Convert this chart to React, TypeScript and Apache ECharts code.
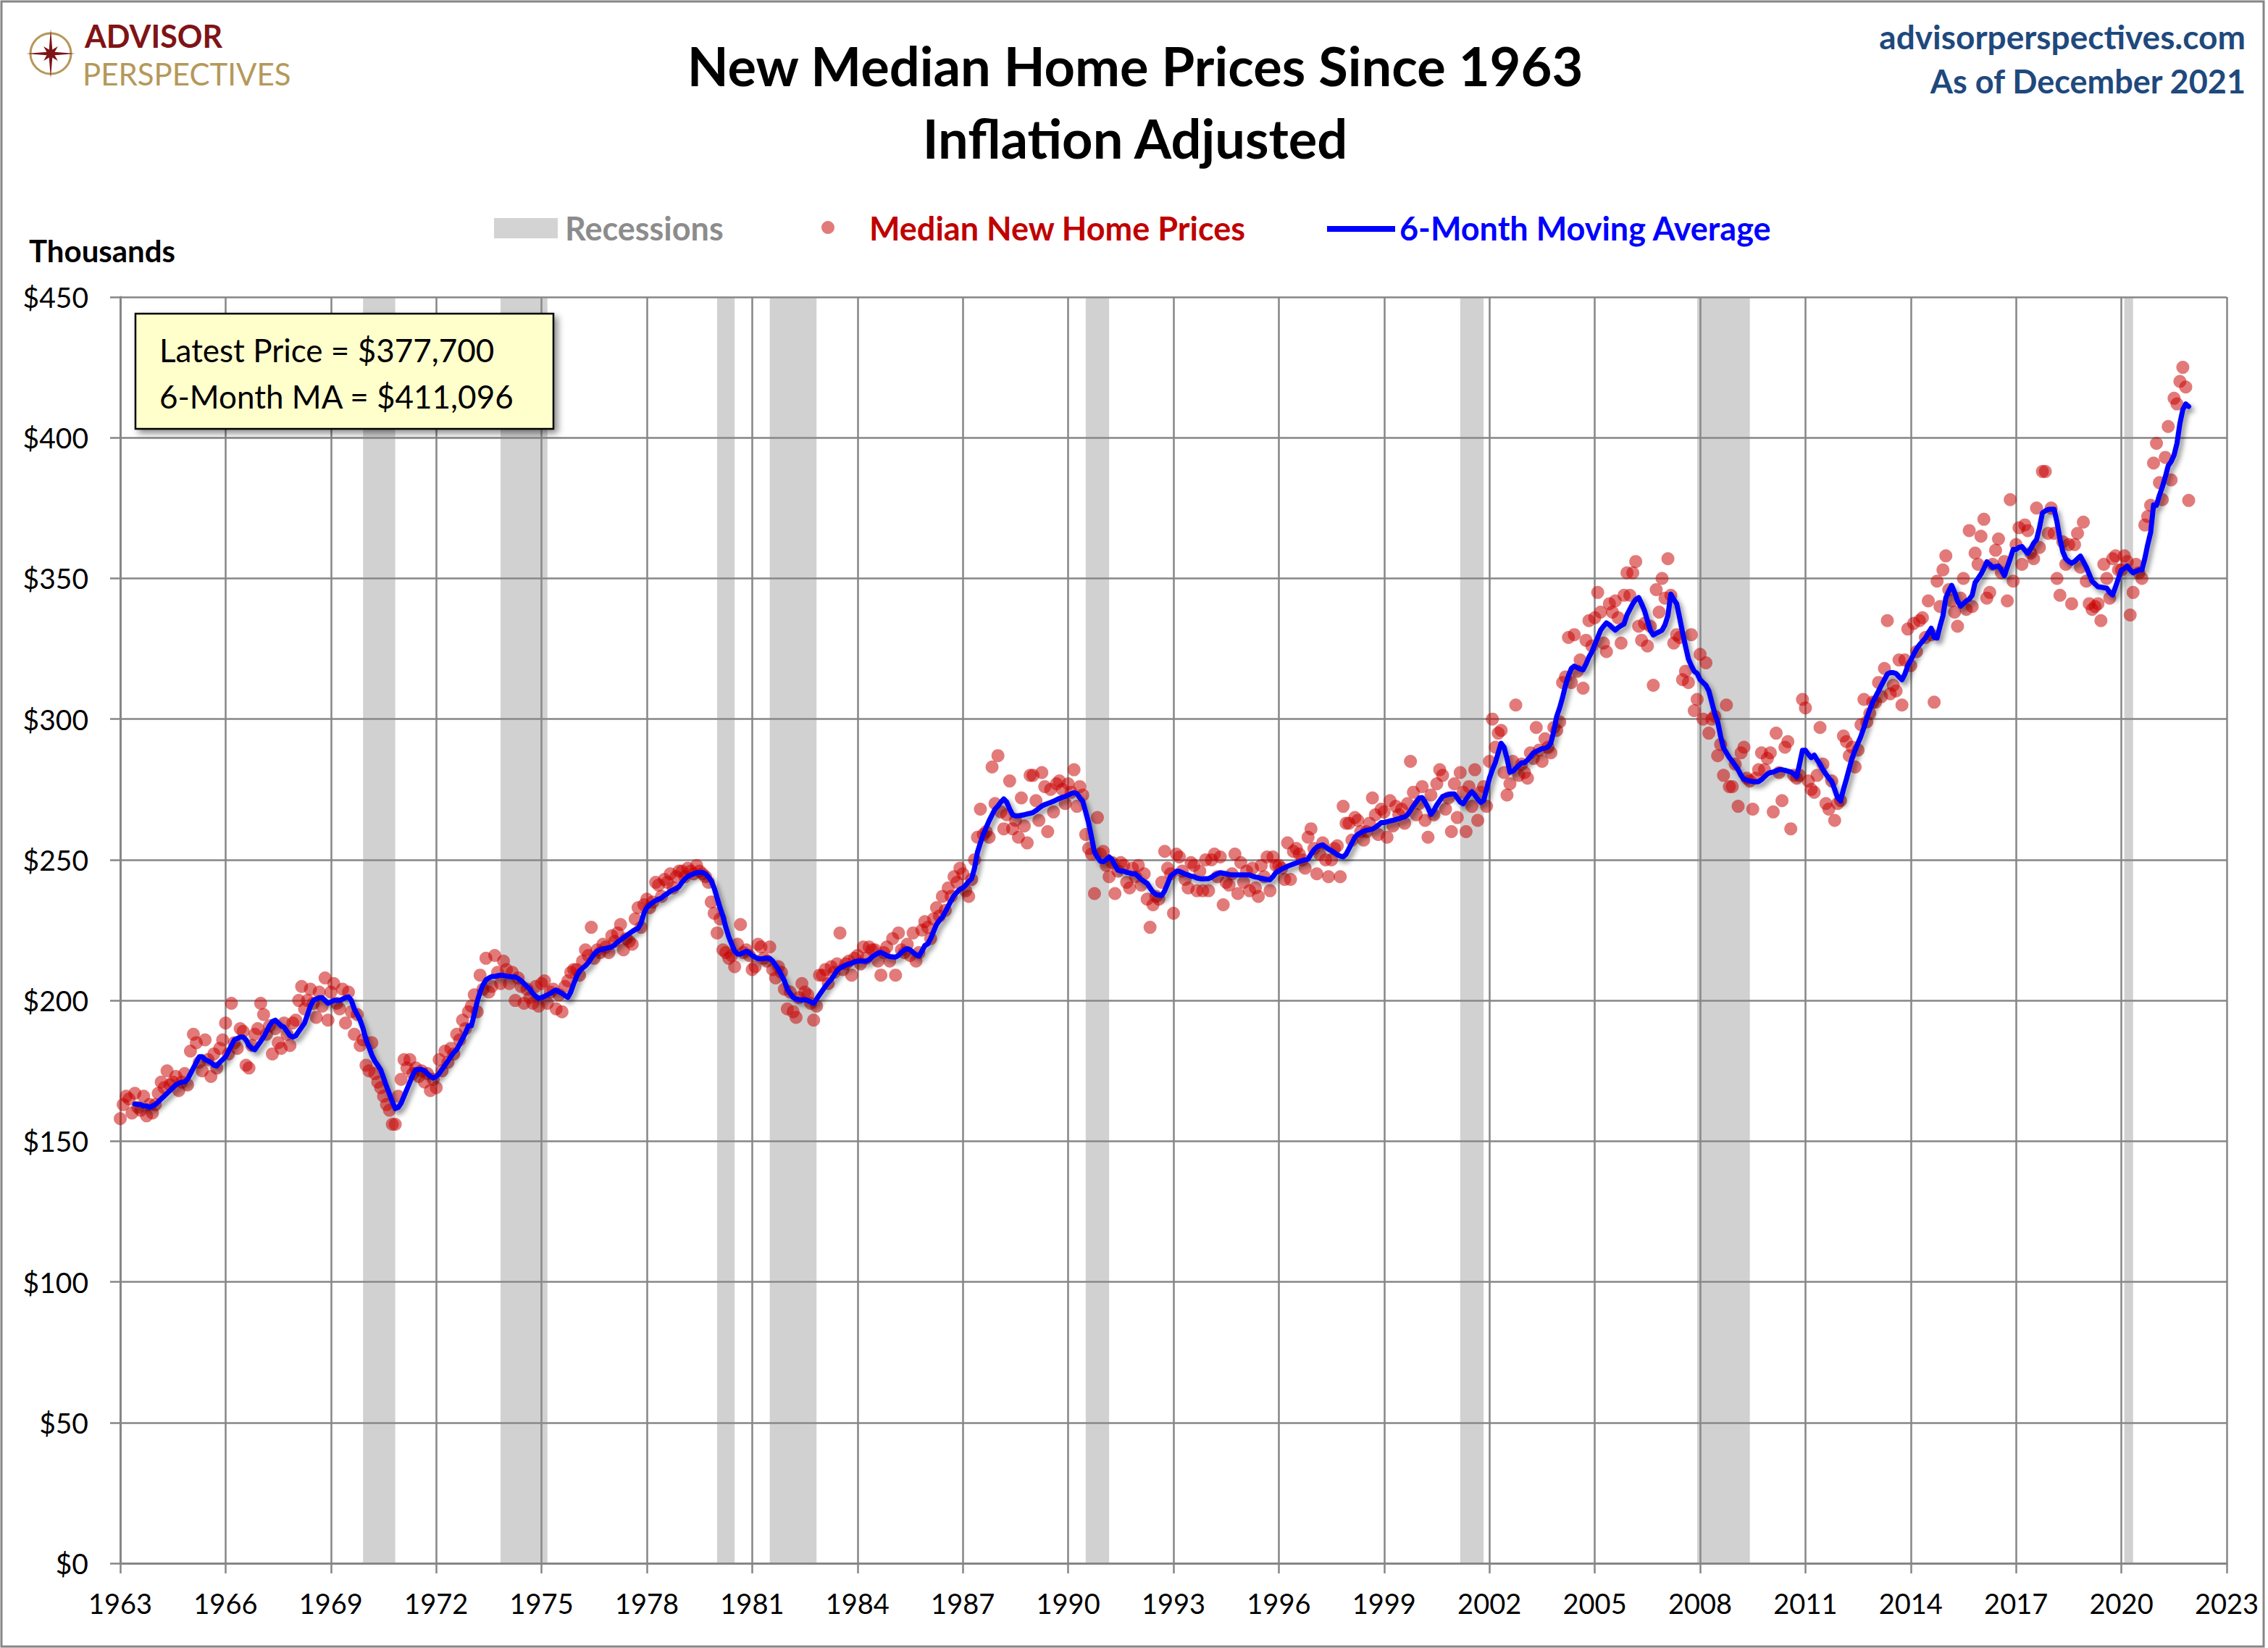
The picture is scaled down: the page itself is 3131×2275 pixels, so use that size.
import React, { useEffect, useRef } from "react";
import * as echarts from "echarts";

const FIRST_YEAR = 1963;
const LAST_TICK_OFFSET = 60;
const X_STEP = 3;
const Y_MAX = 450;
const Y_STEP = 50;

const recessionStarts = [1969.917, 1973.833, 1980.0, 1981.5, 1990.5, 2001.167, 2007.917, 2020.083];
const recessionEnds = [1970.833, 1975.167, 1980.5, 1982.833, 1991.167, 2001.833, 2009.417, 2020.333];

// Monthly median new home prices (thousands, inflation adjusted), Jan 1963 onward
const prices1963to1969 = [
  158, 163, 166, 165, 160, 167, 162, 161, 166, 159, 163, 160,
  163, 167, 171, 169, 175, 170, 171, 173, 168, 171, 174, 170,
  182, 188, 185, 178, 175, 186, 179, 173, 181, 176, 183, 186,
  192, 181, 199, 185, 183, 190, 189, 177, 176, 184, 188, 190,
  199, 195, 188, 191, 181, 190, 185, 183, 192, 188, 184, 192,
  193, 200, 205, 197, 200, 204, 199, 194, 203, 198, 208, 193,
  203, 206, 199, 197, 204, 192, 203, 196, 188, 195, 184, 186,
];
const prices1970s = [
  177, 175, 185, 174, 171, 169, 166, 163, 161, 156, 156, 166,
  172, 179, 176, 179, 174, 176, 173, 175, 171, 174, 168, 172,
  169, 179, 175, 182, 178, 183, 181, 188, 186, 193, 190, 196,
  198, 202, 196, 209, 204, 215, 203, 205, 216, 210, 206, 214,
  211, 206, 210, 200, 208, 205, 199, 204, 201, 199, 205, 198,
  206, 207, 199, 203, 204, 197, 202, 196, 205, 207, 210, 211,
  211, 209, 214, 218, 216, 226, 215, 218, 217, 220, 219, 217,
  223, 221, 224, 227, 218, 222, 221, 220, 229, 233, 226, 234,
  236, 233, 235, 242, 241, 237, 243, 242, 245, 240, 244, 246,
  246, 244, 247, 246, 245, 248, 246, 245, 244, 242, 235, 231,
];
const prices1980s = [
  224, 229, 218, 217, 215, 216, 212, 220, 227, 217, 218, 216,
  211, 212, 220, 219, 215, 214, 219, 211, 208, 212, 210, 204,
  197, 203, 196, 194, 201, 206, 203, 202, 199, 193, 198, 209,
  209, 211, 206, 212, 210, 213, 224, 211, 213, 214, 209, 215,
  216, 213, 219, 215, 219, 218, 218, 214, 209, 217, 219, 214,
  222, 209, 224, 218, 217, 220, 216, 224, 214, 217, 225, 228,
  226, 222, 229, 233, 230, 237, 232, 240, 237, 244, 242, 247,
  245, 239, 237, 243, 250, 258, 268, 259, 260, 258, 283, 270,
  287, 267, 261, 266, 278, 261, 264, 258, 272, 262, 256, 280,
  280, 271, 264, 281, 276, 260, 275, 267, 277, 278, 275, 270,
];
const prices1990s = [
  277, 274, 282, 269, 276, 273, 259, 254, 252, 238, 265, 252,
  253, 248, 244, 249, 238, 246, 249, 248, 242, 240, 247, 244,
  248, 241, 245, 236, 226, 234, 237, 236, 242, 253, 247, 245,
  231, 252, 251, 246, 243, 240, 249, 248, 239, 246, 239, 250,
  239, 250, 252, 244, 251, 234, 242, 241, 245, 252, 238, 249,
  242, 246, 239, 247, 240, 237, 248, 244, 251, 239, 251, 248,
  248, 247, 243, 256, 243, 253, 254, 252, 250, 247, 258, 261,
  254, 245, 252, 256, 250, 244, 250, 254, 255, 244, 269, 263,
  263, 257, 265, 264, 260, 257, 260, 263, 272, 266, 259, 268,
  267, 258, 271, 262, 269, 266, 268, 263, 270, 285, 274, 266,
];
const prices2000s = [
  270, 276, 264, 258, 273, 266, 277, 282, 280, 268, 272, 260,
  277, 265, 281, 274, 260, 276, 269, 282, 264, 274, 276, 269,
  285, 300, 290, 295, 296, 281, 273, 277, 285, 305, 280, 284,
  281, 279, 288, 286, 297, 289, 285, 293, 290, 288, 297, 296,
  299, 313, 315, 329, 313, 330, 317, 321, 311, 328, 335, 326,
  336, 345, 338, 327, 324, 341, 338, 342, 336, 327, 344, 352,
  344, 352, 356, 333, 328, 334, 326, 333, 312, 346, 338, 350,
  343, 357, 344, 327, 330, 329, 314, 317, 313, 330, 303, 307,
  323, 300, 320, 295, 300, 301, 287, 291, 280, 305, 276, 276,
  284, 269, 288, 290, 279, 278, 268, 279, 282, 288, 282, 286,
];
const prices2010s = [
  288, 267, 295, 281, 271, 290, 292, 261, 280, 279, 280, 307,
  304, 278, 275, 274, 280, 297, 284, 270, 268, 278, 264, 270,
  271, 294, 292, 287, 290, 283, 289, 298, 307, 299, 302, 306,
  306, 313, 308, 318, 335, 309, 312, 310, 321, 305, 321, 332,
  319, 334, 324, 335, 336, 329, 342, 330, 306, 349, 340, 353,
  358, 346, 342, 338, 333, 343, 350, 339, 367, 340, 359, 355,
  365, 371, 343, 345, 355, 360, 364, 352, 356, 342, 378, 349,
  362, 368, 355, 369, 367, 359, 357, 375, 361, 388, 388, 366,
  375, 366, 350, 344, 363, 355, 362, 341, 362, 366, 354, 370,
  349, 341, 339, 340, 341, 335, 355, 350, 343, 357, 358, 353,
];
const prices2020s = [
  353, 358, 356, 337, 345, 355, 352, 350, 369, 372, 376, 391,
  398, 384, 378, 393, 404, 385, 414, 412, 420, 425, 418, 377.7,
];

// 6-month moving average (thousands), Jan 1963 onward (first five months empty)
const ma1963to1969 = [
  null, null, null, null, null, 163.2, 163, 163, 162.5, 162.5, 162, 162.5,
  163, 164, 165, 166, 167, 168, 169, 170, 170.5, 171, 171, 172,
  174, 176, 178, 180, 180, 179, 178.5, 178, 177, 176.7, 178, 179,
  180, 182, 184, 186, 186.5, 187, 187, 186, 184, 183, 182.5, 184,
  185.5, 187, 189, 191, 192.5, 193, 192, 191, 190.5, 189, 187.5, 187,
  187.5, 189, 190.5, 192, 195, 198, 200, 200.5, 201, 201, 200, 199,
  199.5, 200, 200, 200, 200.5, 201, 201.3, 200, 197, 195, 193, 190,
];
const ma1970s = [
  186, 183.5, 180.6, 178.5, 177, 175.4, 172.5, 169.5, 166.8, 164, 161.6, 162,
  163.5, 166, 168.5, 171, 173.5, 175.4, 175.5, 175.5, 175, 174, 173, 172.4,
  173, 174, 175.5, 177, 178.5, 180, 181.5, 182.5, 184.5, 186.5, 188.5, 191,
  191, 195, 199.6, 203, 205.5, 207.3, 208, 208.5, 208.5, 208.8, 209, 208.9,
  208.6, 208.5, 208.4, 208.4, 207.8, 207, 206, 205, 204, 202.5, 201.5, 200.7,
  201, 201.5, 202, 202.5, 203.2, 203.7, 203, 202.5, 201.8, 201.1, 203, 206,
  208.5, 210.5, 211.5, 212.3, 213.5, 215, 216.5, 217.5, 218, 218.3, 218.5, 218.8,
  219, 219.8, 220.8, 221.5, 222.3, 223, 223.8, 224.5, 225.2, 225.6, 227.5, 231,
  233, 234, 234.8, 235.5, 236, 236.4, 237.3, 238, 238.8, 239.3, 239.8, 240.5,
  242, 243.2, 244.1, 244.6, 245, 245.4, 245.5, 245.5, 245, 244, 242.5, 240,
];
const ma1980s = [
  236.5, 233, 230, 226, 222.6, 220, 217.5, 216.5, 216.5, 217, 217.5, 217,
  216, 215.4, 214.9, 214.8, 214.9, 215, 214.9, 214, 212.5, 211, 209, 207,
  204, 202.5, 201.1, 200.5, 200.3, 200.2, 200.3, 200, 199.5, 199, 200.5, 202,
  203.5, 205, 206.3, 207.5, 209, 210.6, 211.5, 212, 212.6, 213, 213.2, 213.8,
  214, 214, 214, 214, 214.5, 215.5, 216.2, 216.8, 217.1, 216.5, 216, 215.6,
  215.5, 215.4, 216, 217, 218, 218.4, 218, 217, 216.3, 215.8, 217.5, 219.5,
  220.1, 222, 224.5, 227, 228.5, 229.6, 231.5, 233.5, 235.5, 237.3, 238.5, 239.5,
  240, 241, 242.3, 243.3, 247, 252.7, 256, 259, 261.5, 263.9, 266, 268,
  269.1, 270.5, 271.6, 270.5, 268, 266, 265.6, 265.6, 265.8, 266, 266.3, 266.5,
  266.8, 267.5, 268.3, 269.1, 269.6, 270, 270.4, 270.8, 271.3, 271.8, 272.2, 272.5,
];
const ma1990s = [
  273, 273.5, 273.8, 273.5, 272, 270.8, 267, 263.1, 258, 252.7, 251, 249.5,
  249.3, 250, 251, 250, 248, 246.3, 246, 246, 245.5, 245.3, 245, 245,
  244, 243, 242.3, 241.6, 240, 238.5, 237.7, 237.5, 237.3, 239, 241.5, 244.2,
  245, 245.9, 245.9, 245.4, 244.9, 244.6, 244.2, 244, 243.5, 243.3, 243.2, 243.3,
  243.3, 243.8, 244.5, 245, 245.4, 245.2, 245, 244.8, 244.6, 244.6, 244.6, 244.6,
  244.6, 244.6, 244.6, 244.2, 243.9, 243.7, 243.4, 243.2, 243, 242.9, 244, 245.5,
  246, 246.7, 247.2, 247.7, 248.1, 248.5, 248.9, 249.3, 249.7, 250, 250.2, 252,
  253.5, 254.5, 255, 255.3, 254.5, 253.8, 253.2, 252.5, 251.8, 251.3, 251, 252,
  254, 256, 258, 259, 259.6, 260.2, 260.5, 260.7, 260.9, 261.5, 262.3, 263.2,
  263.2, 263.5, 263.8, 264, 264.3, 264.6, 265, 265.2, 266, 267.5, 269.1, 270.5,
];
const ma2000s = [
  272, 272.1, 270.5, 268.5, 266.1, 267.5, 269.5, 271, 272.5, 272.9, 273.2, 273.4,
  273.4, 272, 270.5, 269.9, 271.5, 273, 274.2, 273, 271.5, 270.4, 271, 275,
  279, 282, 284.5, 288, 291.4, 290, 286, 281.1, 281.5, 282.5, 283.5, 284.5,
  284.5, 285.5, 286.5, 288, 288.5, 289, 289.5, 289.7, 290.1, 291.5, 295.7, 301,
  304, 307.7, 312, 315.4, 318, 318.8, 318.3, 317.8, 317.5, 319.5, 322, 323.9,
  326.5, 329, 331.6, 333, 334.2, 333.5, 332.5, 331.6, 332.5, 333.2, 333.8, 337,
  339, 341, 342.5, 343.2, 341, 338.5, 335, 331.5, 329.9, 330.5, 331, 331.6,
  333.5, 336.8, 344.4, 342.5, 341, 336, 330.8, 326, 321.4, 319, 317, 316.2,
  314, 313, 312, 310, 306, 302, 299.1, 294, 289.7, 288, 286.3, 285,
  283.5, 282, 280, 278.6, 278.3, 278, 277.8, 277.8, 277.8, 278.5, 279.5, 280.5,
];
const ma2010s = [
  281, 281.2, 281.6, 282, 282, 281.8, 281.5, 281.2, 280.5, 279.5, 284, 288.9,
  288.9, 287.5, 286.3, 287.2, 285.5, 284, 282, 280.5, 279, 277.8, 275, 272,
  270.9, 275, 278.6, 282.5, 286.3, 289, 291.5, 294, 297, 300.5, 303.4, 306,
  308, 310, 312.1, 314, 316, 316.5, 316.5, 316.2, 315, 314, 316, 319,
  320.9, 323, 325, 326.4, 327.6, 328.8, 330.5, 332.3, 329, 328.8, 333, 336.7,
  343.1, 345.5, 347.5, 345, 342, 340.1, 341, 342, 342.6, 344, 348.5, 350,
  351.5, 353.5, 355.9, 355, 353.9, 354.2, 354.4, 353, 351, 354, 357, 360.3,
  360.3, 361, 361.3, 360, 358.9, 360.5, 362.5, 363.8, 368, 373.2, 374, 374.5,
  374.6, 374.6, 370, 364, 359.4, 357, 356, 355.4, 356, 357, 357.9, 356,
  354, 351.5, 349, 348, 347, 346.9, 346.7, 346.5, 345, 344.1, 347, 350,
];
const ma2020s = [
  353, 353.5, 354.4, 353, 352, 352.5, 353, 353, 357, 362, 366.3, 376.1,
  376, 379.5, 382.5, 386, 390, 391.5, 393.8, 398, 405, 410, 412, 411.1,
];

const FONT = "Lato, 'Open Sans', sans-serif";
const GRID_GREY = "#868686";

function buildOption() {
  const prices = [
    ...prices1963to1969, ...prices1970s, ...prices1980s, ...prices1990s,
    ...prices2000s, ...prices2010s, ...prices2020s,
  ];
  const ma = [
    ...ma1963to1969, ...ma1970s, ...ma1980s, ...ma1990s,
    ...ma2000s, ...ma2010s, ...ma2020s,
  ];
  const priceData = prices.map((v, i) => [i / 12, v]);
  const maData = ma
    .map((v, i) => (v == null ? null : [i / 12, v]))
    .filter((p) => p !== null);
  const recessionAreas = recessionStarts.map((s, i) => [
    { xAxis: s - FIRST_YEAR },
    { xAxis: recessionEnds[i] - FIRST_YEAR },
  ]);

  const starPts: number[][] = [];
  for (let k = 0; k < 16; k++) {
    const ang = (k * Math.PI) / 8 - Math.PI / 2;
    const r = k % 4 === 0 ? 34 : k % 2 === 0 ? 14 : 6;
    starPts.push([70 + r * Math.cos(ang), 74 + r * Math.sin(ang)]);
  }

  const txt = (
    text: string, x: number, y: number, font: string, fill: string,
    align: string = "left"
  ) => ({
    type: "text",
    x,
    y,
    silent: true,
    style: { text, font, fill, textAlign: align, textVerticalAlign: "middle" },
  });

  return {
    animation: false,
    backgroundColor: "#ffffff",
    grid: { left: 166, right: 57, top: 410, bottom: 117 },
    xAxis: {
      type: "value",
      min: 0,
      max: LAST_TICK_OFFSET,
      interval: X_STEP,
      axisLine: { show: true, lineStyle: { color: GRID_GREY, width: 3 } },
      axisTick: { show: true, length: 14, lineStyle: { color: GRID_GREY, width: 2.5 } },
      axisLabel: {
        formatter: (v: number) => String(FIRST_YEAR + v),
        fontFamily: FONT,
        fontSize: 38,
        color: "#000",
        margin: 36,
      },
      splitLine: { show: true, lineStyle: { color: GRID_GREY, width: 2.5 } },
    },
    yAxis: {
      type: "value",
      min: 0,
      max: Y_MAX,
      interval: Y_STEP,
      axisLine: { show: true, lineStyle: { color: GRID_GREY, width: 3 } },
      axisTick: { show: true, length: 14, lineStyle: { color: GRID_GREY, width: 2.5 } },
      axisLabel: {
        formatter: "${value}",
        fontFamily: FONT,
        fontSize: 39,
        color: "#000",
        margin: 44,
      },
      splitLine: { show: true, lineStyle: { color: GRID_GREY, width: 2.5 } },
    },
    series: [
      {
        name: "Recessions",
        type: "line",
        data: [],
        z: 1,
        markArea: {
          silent: true,
          itemStyle: { color: "rgba(140,140,140,0.4)" },
          data: recessionAreas,
        },
      },
      {
        name: "Median New Home Prices",
        type: "scatter",
        data: priceData,
        symbol: "circle",
        symbolSize: 18,
        z: 2,
        itemStyle: { color: "#c80000", opacity: 0.52 },
      },
      {
        name: "6-Month Moving Average",
        type: "line",
        data: maData,
        showSymbol: false,
        symbol: "none",
        z: 3,
        lineStyle: {
          color: "#0000ff",
          width: 7,
          cap: "round",
          join: "round",
          shadowColor: "rgba(0,0,0,0.45)",
          shadowBlur: 7,
          shadowOffsetX: 4,
          shadowOffsetY: 5,
        },
      },
    ],
    graphic: [
      {
        type: "rect",
        silent: true,
        shape: { x: 2, y: 2, width: 3123, height: 2271 },
        style: { fill: "none", stroke: GRID_GREY, lineWidth: 3 },
        z: -10,
      },
      // logo
      {
        type: "circle",
        silent: true,
        shape: { cx: 70, cy: 74, r: 28 },
        style: { fill: "none", stroke: "#b5985a", lineWidth: 3 },
      },
      {
        type: "polygon",
        silent: true,
        shape: { points: starPts },
        style: { fill: "#7f1416" },
      },
      txt("ADVISOR", 117, 49, `bold 43px ${FONT}`, "#7f1416"),
      txt("PERSPECTIVES", 114, 102, `42px ${FONT}`, "#b5985a"),
      // titles
      txt("New Median Home Prices Since 1963", 1567, 90, `bold 74px ${FONT}`, "#000", "center"),
      txt("Inflation Adjusted", 1567, 190, `bold 74px ${FONT}`, "#000", "center"),
      txt("advisorperspectives.com", 3100, 50, `bold 46px ${FONT}`, "#1f497d", "right"),
      txt("As of December 2021", 3100, 112, `bold 45px ${FONT}`, "#1f497d", "right"),
      // legend
      {
        type: "rect",
        silent: true,
        shape: { x: 682, y: 301, width: 88, height: 28 },
        style: { fill: "#d3d3d3" },
      },
      txt("Recessions", 780, 315, `bold 45px ${FONT}`, "#8c8c8c"),
      {
        type: "circle",
        silent: true,
        shape: { cx: 1143, cy: 314, r: 9 },
        style: { fill: "#c80000", opacity: 0.52 },
      },
      txt("Median New Home Prices", 1200, 315, `bold 45px ${FONT}`, "#c00000"),
      {
        type: "line",
        silent: true,
        shape: { x1: 1832, y1: 316, x2: 1926, y2: 316 },
        style: { stroke: "#0000ff", lineWidth: 8 },
      },
      txt("6-Month Moving Average", 1932, 315, `bold 45px ${FONT}`, "#0000ff"),
      txt("Thousands", 40, 346, `bold 42px ${FONT}`, "#000"),
      // annotation box
      {
        type: "rect",
        silent: true,
        shape: { x: 187, y: 433, width: 577, height: 159 },
        style: {
          fill: "#ffffcc",
          stroke: "#000",
          lineWidth: 2.5,
          shadowColor: "rgba(0,0,0,0.45)",
          shadowBlur: 10,
          shadowOffsetX: 5,
          shadowOffsetY: 5,
        },
        z: 100,
      },
      { ...txt("Latest Price = $377,700", 220, 483, `44px ${FONT}`, "#000"), z: 101 },
      { ...txt("6-Month MA = $411,096", 220, 547, `44px ${FONT}`, "#000"), z: 101 },
    ],
  };
}

export default function App() {
  const ref = useRef<HTMLDivElement>(null);
  useEffect(() => {
    document.body.style.margin = "0";
    document.body.style.overflow = "hidden";
    if (!ref.current) return;
    const chart = echarts.init(ref.current, null, { renderer: "svg" });
    chart.setOption(buildOption() as any);
    return () => chart.dispose();
  }, []);
  return <div ref={ref} style={{ width: 3131, height: 2275 }} />;
}
